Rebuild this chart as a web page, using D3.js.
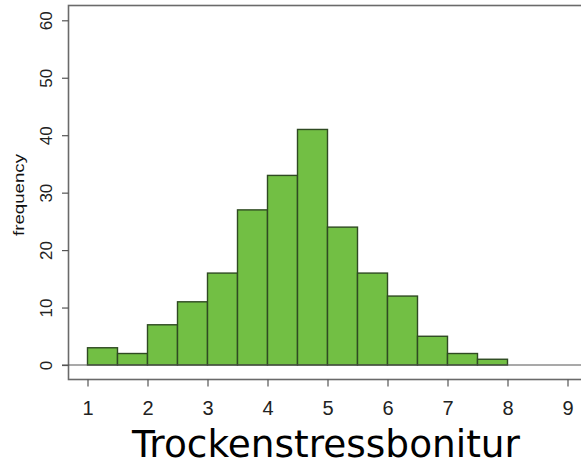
<!DOCTYPE html>
<html>
<head>
<meta charset="utf-8">
<script src="https://cdn.jsdelivr.net/npm/d3@7"></script>
<style>
  html, body { margin: 0; padding: 0; background: #fff; }
  svg { display: block; }
</style>
</head>
<body>
<svg id="chart" width="581" height="466"></svg>
<script>
// Histogram of drought stress scores, bins of width 0.5
const binStarts = [1, 1.5, 2, 2.5, 3, 3.5, 4, 4.5, 5, 5.5, 6, 6.5, 7, 7.5];
const counts    = [3, 2, 7, 11, 16, 27, 33, 41, 24, 16, 12, 5, 2, 1];
const binWidth = 0.5;
const xTicks = [1, 2, 3, 4, 5, 6, 7, 8, 9];
const yTicks = [0, 10, 20, 30, 40, 50, 60];
const xTitle = "Trockenstressbonitur";
const yTitle = "frequency";

const svg = d3.select("#chart");

const x = d3.scaleLinear().domain([1, 9]).range([87.5, 567.5]);
const y = d3.scaleLinear().domain([0, 60]).range([365, 20.3]);

const boxLeft = 68.5, boxTop = 5.5, boxBottom = 379.5, boxRight = 590;

// plot frame
svg.append("rect")
  .attr("x", boxLeft).attr("y", boxTop)
  .attr("width", boxRight - boxLeft).attr("height", boxBottom - boxTop)
  .attr("fill", "none").attr("stroke", "#6a6a6a").attr("stroke-width", 1.6);

// bars
svg.append("g").selectAll("rect")
  .data(binStarts.map((s, i) => ({ s, c: counts[i] })))
  .join("rect")
  .attr("x", d => x(d.s))
  .attr("y", d => y(d.c))
  .attr("width", d => x(d.s + binWidth) - x(d.s))
  .attr("height", d => y(0) - y(d.c))
  .attr("fill", "#72bf44")
  .attr("stroke", "#2f4a22")
  .attr("stroke-width", 1.4);

// zero baseline
svg.append("line")
  .attr("x1", 62).attr("x2", 581)
  .attr("y1", y(0)).attr("y2", y(0))
  .attr("stroke", "#555").attr("stroke-width", 1.2);

// x axis (below the frame)
const xAxis = d3.axisBottom(x).tickValues(xTicks).tickSize(7).tickPadding(14).tickFormat(d3.format("d"));
const gx = svg.append("g").attr("transform", `translate(0,${boxBottom})`).call(xAxis);
gx.select(".domain").remove();
gx.selectAll(".tick line").attr("stroke", "#555").attr("stroke-width", 1.2);
gx.selectAll(".tick text")
  .attr("font-family", "Liberation Sans, Arial, sans-serif")
  .attr("font-size", 20).attr("fill", "#222");

// y axis (left of the frame)
const yAxis = d3.axisLeft(y).tickValues(yTicks).tickSize(6.5).tickPadding(0).tickFormat(d3.format("d"));
const gy = svg.append("g").attr("transform", `translate(${boxLeft},0)`).call(yAxis);
gy.select(".domain").remove();
gy.selectAll(".tick line").attr("stroke", "#555").attr("stroke-width", 1.2);
gy.selectAll(".tick text")
  .attr("x", 0).attr("dy", null)
  .attr("transform", "translate(-22.5,0) rotate(-90)")
  .attr("text-anchor", "middle")
  .attr("dominant-baseline", "central")
  .attr("font-family", "Liberation Sans, Arial, sans-serif")
  .attr("font-size", 17).attr("fill", "#222");

// axis titles
svg.append("text")
  .attr("transform", "translate(18.5,195) rotate(-90)")
  .attr("text-anchor", "middle")
  .attr("dominant-baseline", "central")
  .attr("font-family", "Liberation Sans, Arial, sans-serif")
  .attr("font-size", 14).attr("fill", "#111")
  .attr("textLength", 82).attr("lengthAdjust", "spacingAndGlyphs")
  .text(yTitle);

svg.append("text")
  .attr("x", 326).attr("y", 457)
  .attr("text-anchor", "middle")
  .attr("font-family", "DejaVu Sans, Verdana, sans-serif")
  .attr("font-size", 37).attr("fill", "#000")
  .attr("textLength", 388).attr("lengthAdjust", "spacingAndGlyphs")
  .text(xTitle);
</script>
</body>
</html>
